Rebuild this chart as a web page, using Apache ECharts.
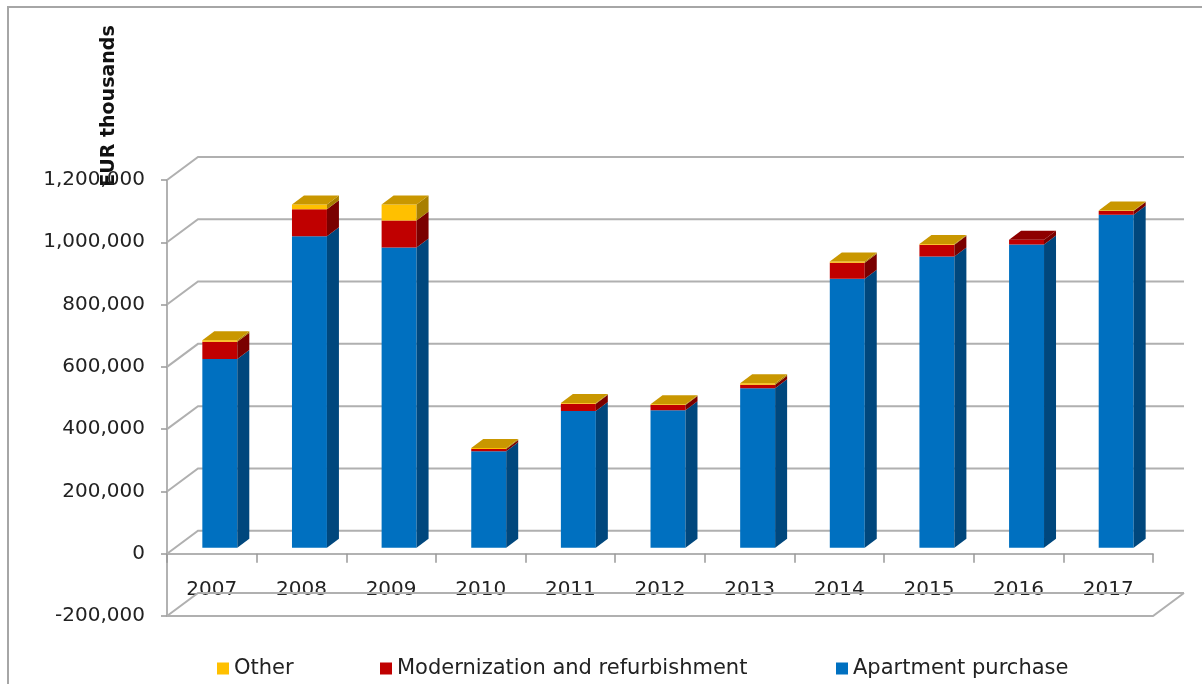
<!DOCTYPE html>
<html>
<head>
<meta charset="utf-8">
<title>Housing loans</title>
<script src="https://cdn.jsdelivr.net/npm/echarts@6/dist/echarts.min.js"></script>
<style>
    html, body { margin: 0; padding: 0; background: #fff; }
    #main { width: 1202px; height: 684px; }
</style>
</head>
<body>
<div id="main"></div>
<script>
// data, EUR thousands
const categories = ['2007', '2008', '2009', '2010', '2011', '2012', '2013', '2014', '2015', '2016', '2017'];
const apartment = [606000, 1000000, 964000, 310000, 439000, 441000, 512000, 864000, 935000, 974000, 1069000];
const modernization = [55000, 87000, 87000, 7000, 23000, 17000, 11000, 51000, 38000, 15000, 12000];
const other = [5000, 15000, 51000, 3000, 3000, 3000, 5000, 4000, 2000, 0, 2000];
const yTicks = [-200000, 0, 200000, 400000, 600000, 800000, 1000000, 1200000];

// fake 3d offsets (px)
const WALL_DX = 31, WALL_DY = 23;   // back wall
const FRONT_DX = 8, FRONT_DY = 6;   // front face of columns
const DEPTH_DX = 12, DEPTH_DY = 9;  // column depth

const FONT = 'DejaVu Sans';

const stackOrder = [apartment, modernization, other];

function wallItem(params, api) {
    const v = api.value(1);
    const band = api.size([1, 0])[0];
    const p = api.coord([0, v]);
    const x0 = p[0] - band / 2;
    const x1 = api.coord([categories.length - 1, v])[0] + band / 2;
    const y = p[1];
    const line = { stroke: '#b0b0b0', lineWidth: 2, fill: null };
    const children = [{
        type: 'polyline',
        shape: { points: [[x0, y], [x0 + WALL_DX, y - WALL_DY], [x1 + WALL_DX, y - WALL_DY]] },
        style: line
    }];
    if (v === yTicks[0]) {
        children.push({
            type: 'polyline',
            shape: { points: [[x0, y], [x1, y], [x1 + WALL_DX, y - WALL_DY]] },
            style: line
        });
    }
    return { type: 'group', children: children };
}

function columnSeries(name, level, color, sideColor, topColor) {
    const values = stackOrder[level];
    return {
        name: name,
        type: 'custom',
        clip: false,
        z: 3,
        itemStyle: { color: color },
        data: values.map((v, i) => [i, v]),
        renderItem: function (params, api) {
            const i = api.value(0);
            const val = api.value(1);
            if (!val) return null;
            let base = 0;
            for (let k = 0; k < level; k++) base += stackOrder[k][i];
            let isTop = true;
            for (let k = level + 1; k < stackOrder.length; k++) {
                if (stackOrder[k][i] > 0) isTop = false;
            }
            const band = api.size([1, 0])[0];
            const bw = band * 0.39;
            const b = api.coord([i, base]);
            const t = api.coord([i, base + val]);
            const xl = b[0] + FRONT_DX - bw / 2;
            const xr = xl + bw;
            const yb = b[1] - FRONT_DY;
            const yt = t[1] - FRONT_DY;
            const children = [
                {
                    type: 'rect',
                    shape: { x: xl, y: yt, width: bw, height: yb - yt },
                    style: { fill: color }
                },
                {
                    type: 'polygon',
                    shape: { points: [[xr, yb], [xr + DEPTH_DX, yb - DEPTH_DY], [xr + DEPTH_DX, yt - DEPTH_DY], [xr, yt]] },
                    style: { fill: sideColor }
                }
            ];
            if (isTop) {
                children.push({
                    type: 'polygon',
                    shape: { points: [[xl, yt], [xr, yt], [xr + DEPTH_DX, yt - DEPTH_DY], [xl + DEPTH_DX, yt - DEPTH_DY]] },
                    style: { fill: topColor }
                });
            }
            return { type: 'group', children: children };
        }
    };
}

const legendBase = {
    icon: 'rect',
    itemWidth: 12,
    itemHeight: 12,
    padding: 0,
    top: 658,
    selectedMode: false,
    textStyle: { fontFamily: FONT, fontSize: 21, color: '#222' }
};

const chart = echarts.init(document.getElementById('main'));
chart.setOption({
    animation: false,
    backgroundColor: '#fff',
    graphic: [
        {
            type: 'rect',
            shape: { x: 8, y: 7, width: 1400, height: 900 },
            style: { fill: null, stroke: '#a6a6a6', lineWidth: 2 },
            silent: true
        },
        {
            type: 'text',
            x: 109,
            y: 106,
            rotation: Math.PI / 2,
            style: {
                text: 'EUR thousands',
                x: 0,
                y: 0,
                align: 'center',
                verticalAlign: 'middle',
                font: 'bold 19px "DejaVu Sans"',
                fill: '#111'
            }
        }
    ],
    legend: [
        Object.assign({}, legendBase, { left: 217, data: ['Other'] }),
        Object.assign({}, legendBase, { left: 380, data: ['Modernization and refurbishment'] }),
        Object.assign({}, legendBase, { left: 836, data: ['Apartment purchase'] })
    ],
    grid: { left: 167, right: 49, top: 180, bottom: 68 },
    xAxis: {
        type: 'category',
        data: categories,
        boundaryGap: true,
        axisLine: { onZero: true, lineStyle: { color: '#999', width: 1.5 } },
        axisTick: { show: true, length: 9, lineStyle: { color: '#999', width: 1.5 } },
        axisLabel: { margin: -36, fontFamily: FONT, fontSize: 20, color: '#222' },
        splitLine: { show: false }
    },
    yAxis: {
        type: 'value',
        min: -200000,
        max: 1200000,
        interval: 200000,
        axisLine: { show: true, lineStyle: { color: '#999', width: 1.5 } },
        axisTick: { show: true, length: 6, lineStyle: { color: '#999', width: 1.5 } },
        axisLabel: {
            margin: 22,
            fontFamily: FONT,
            fontSize: 20,
            color: '#222',
            formatter: v => v.toLocaleString('en-US')
        },
        splitLine: { show: false }
    },
    series: [
        {
            name: 'wall',
            type: 'custom',
            clip: false,
            silent: true,
            z: 1,
            data: yTicks.map(v => [0, v]),
            renderItem: wallItem
        },
        columnSeries('Apartment purchase', 0, '#0070C0', '#00477D', '#005A9E'),
        columnSeries('Modernization and refurbishment', 1, '#C00000', '#7A0000', '#8E0000'),
        columnSeries('Other', 2, '#FFC000', '#A87F00', '#C99700')
    ]
});
</script>
</body>
</html>
